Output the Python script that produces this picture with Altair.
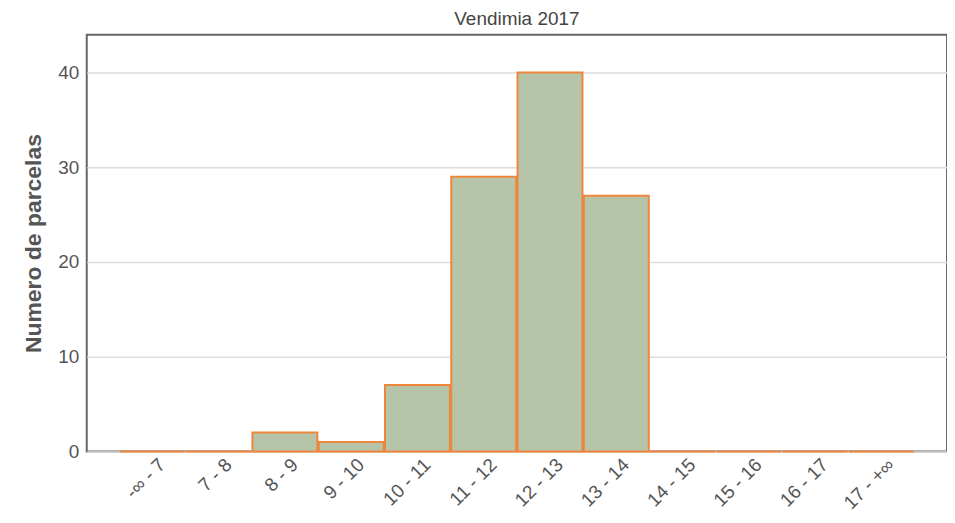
import altair as alt
import pandas as pd

categories = ["-∞ - 7", "7 - 8", "8 - 9", "9 - 10", "10 - 11", "11 - 12",
              "12 - 13", "13 - 14", "14 - 15", "15 - 16", "16 - 17", "17 - +∞"]
counts = [0, 0, 2, 1, 7, 29, 40, 27, 0, 0, 0, 0]

df = pd.DataFrame({"rango": categories, "parcelas": counts})

FONT = "Liberation Sans"

chart = alt.Chart(df).mark_bar(
    fill="#b6c4aa", stroke="#ee873b", strokeWidth=2
).encode(
    x=alt.X("rango:N", sort=categories,
            scale=alt.Scale(paddingInner=0.02, paddingOuter=0.5),
            axis=alt.Axis(title=None, labelAngle=-45, labelAlign="right",
                          labelBaseline="middle", labelFontSize=19,
                          labelColor="#555555", ticks=False, domain=False,
                          labelPadding=10, labelOffset=10, labelFont=FONT)),
    y=alt.Y("parcelas:Q", scale=alt.Scale(domain=[0, 44], nice=False),
            axis=alt.Axis(title="Numero de parcelas", values=[0, 10, 20, 30, 40],
                          titleFontSize=23, titleFontWeight="bold", titleColor="#555555",
                          titleFont=FONT, titlePadding=12,
                          labelFontSize=19, labelColor="#555555", labelFont=FONT,
                          ticks=False, domain=False, labelPadding=8,
                          gridColor="#dddddd", gridWidth=1.5)),
).properties(
    width=863, height=418,
    background="white",
    title=alt.TitleParams("Vendimia 2017", fontSize=19, font=FONT, fontWeight="normal",
                          color="#444444", anchor="middle", offset=6),
    autosize=alt.AutoSizeParams(type="none"),
    padding={"left": 79, "top": 26, "right": 0, "bottom": 62},
).configure_view(
    stroke="#666666", strokeWidth=2
)

chart.save("out.html", embed_options={"renderer": "svg", "actions": False})
